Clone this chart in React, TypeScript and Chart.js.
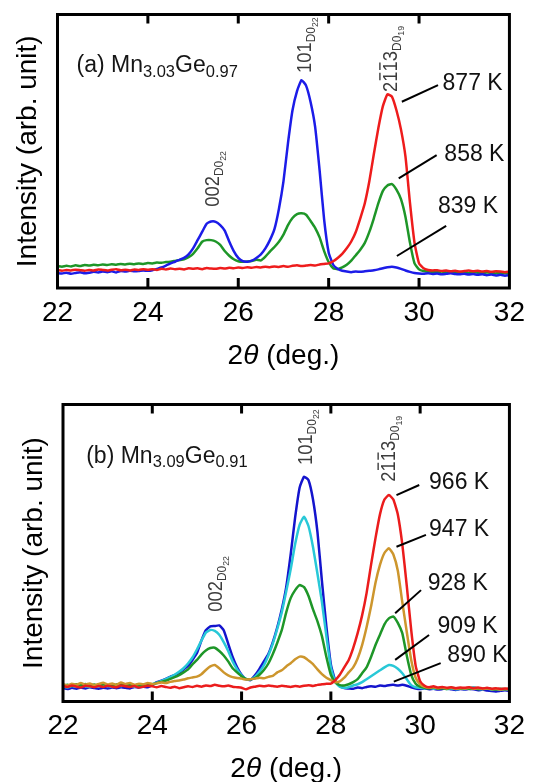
import React, { useEffect, useRef } from "react";
import { Chart, registerables } from "chart.js";
Chart.register(...registerables);

const FONT = '"Liberation Sans", Arial, Helvetica, sans-serif';

// 2θ grid (deg.)
const twoTheta = [
  22.0, 22.1, 22.2, 22.3, 22.4, 22.5, 22.6, 22.7, 22.8, 22.9,
  23.0, 23.1, 23.2, 23.3, 23.4, 23.5, 23.6, 23.7, 23.8, 23.9,
  24.0, 24.1, 24.2, 24.3, 24.4, 24.5, 24.6, 24.7, 24.8, 24.9,
  25.0, 25.1, 25.2, 25.3, 25.4, 25.5, 25.6, 25.7, 25.8, 25.9,
  26.0, 26.1, 26.2, 26.3, 26.4, 26.5, 26.6, 26.7, 26.8, 26.9,
  27.0, 27.1, 27.2, 27.3, 27.4, 27.5, 27.6, 27.7, 27.8, 27.9,
  28.0, 28.1, 28.2, 28.3, 28.4, 28.5, 28.6, 28.7, 28.8, 28.9,
  29.0, 29.1, 29.2, 29.3, 29.4, 29.5, 29.6, 29.7, 29.8, 29.9,
  30.0, 30.1, 30.2, 30.3, 30.4, 30.5, 30.6, 30.7, 30.8, 30.9,
  31.0, 31.1, 31.2, 31.3, 31.4, 31.5, 31.6, 31.7, 31.8, 31.9,
  32.0,
];
const xTickValues = [22, 24, 26, 28, 30, 32];

// Panel (a) Mn3.03Ge0.97
const a839K = [
  5.4, 5.3, 5.6, 5.2, 5.5, 5.8, 5.4, 5.6, 5.9, 5.7,
  6.0, 5.8, 6.1, 5.7, 6.2, 6.0, 6.3, 6.1, 6.2, 6.4,
  6.3, 6.5, 7.0, 7.5, 8.2, 9.0, 9.6, 10.3, 11.0, 12.3,
  14.5, 17.5, 20.5, 23.5, 24.3, 24.2, 23.0, 21.0, 17.0, 13.5,
  11.0, 9.8, 9.6, 10.0, 11.0, 12.3, 14.5, 17.5, 21.5, 29.0,
  39.0, 53.0, 65.0, 72.0, 76.0, 74.0, 68.0, 59.0, 43.0, 25.0,
  13.0, 8.5, 7.0, 6.3, 6.0, 5.8, 6.0, 5.9, 6.1, 6.3,
  6.5, 6.8, 7.2, 7.6, 7.8, 7.5, 7.0, 6.4, 5.9, 5.5,
  5.3, 5.2, 5.4, 5.1, 5.3, 5.0, 5.2, 5.4, 5.1, 5.0,
  5.2, 4.9, 5.1, 4.8, 5.0, 4.7, 4.9, 4.6, 4.8, 4.5,
  4.7,
];
const a858K = [
  8.0, 7.8, 8.1, 7.9, 8.3, 8.0, 8.4, 8.2, 8.5, 8.3,
  8.6, 8.4, 8.7, 8.5, 8.8, 8.6, 8.9, 8.7, 9.0, 8.8,
  9.1, 9.0, 9.3, 9.2, 9.5, 9.6, 9.9, 10.2, 10.5, 11.3,
  12.5, 14.5, 16.9, 17.5, 17.5, 17.0, 15.8, 13.5, 11.8, 10.5,
  9.8, 9.6, 9.7, 9.9, 10.3, 10.1, 11.5, 13.3, 15.0, 16.9,
  19.5, 23.0, 25.6, 27.0, 27.3, 26.8, 24.5, 22.0, 18.5, 13.5,
  9.5, 7.2, 6.9, 7.5, 8.5, 10.0, 12.0, 14.0, 16.5, 20.5,
  25.5, 31.0, 35.5, 37.5, 38.0, 36.0, 32.5, 26.0, 16.5, 9.0,
  6.8, 6.2, 6.0, 5.9, 5.8, 6.0, 5.7, 5.9, 5.6, 5.8,
  5.7, 5.5, 5.8, 5.6, 5.4, 5.7, 5.5, 5.3, 5.6, 5.4,
  5.3,
];
const a877K = [
  6.5, 6.3, 6.6, 6.4, 6.7, 6.5, 6.3, 6.6, 6.4, 6.8,
  6.6, 6.4, 6.7, 6.9, 6.5, 6.7, 6.4, 6.8, 6.6, 6.9,
  6.7, 6.9, 6.6, 7.0, 6.8, 7.1, 6.9, 7.0, 6.8, 7.2,
  7.0, 7.2, 6.9, 7.3, 7.1, 7.0, 7.3, 7.1, 7.4, 7.2,
  7.5, 7.3, 7.6, 7.4, 7.7, 7.5, 7.8, 7.6, 7.9, 7.7,
  8.0, 7.8, 8.1, 8.3, 8.0, 8.2, 8.4, 8.2, 8.6, 8.8,
  9.0, 9.8, 11.0, 12.5, 14.5, 17.0, 20.5, 25.5, 31.0, 39.0,
  49.0, 58.5, 66.5, 70.8, 70.0, 65.0, 58.0, 48.0, 31.0, 16.5,
  9.0, 7.2, 6.6, 6.4, 6.5, 6.2, 6.4, 6.1, 6.3, 6.0,
  6.2, 6.4, 6.1, 6.3, 6.0, 6.2, 5.9, 6.1, 6.0, 5.8,
  6.0,
];

// Panel (b) Mn3.09Ge0.91
const b890K = [
  4.5, 4.2, 4.6, 4.3, 4.7, 4.4, 4.8, 4.5, 4.3, 4.6,
  4.4, 4.7, 4.5, 4.8, 4.6, 4.4, 4.9, 4.7, 5.0, 4.8,
  5.5, 6.5, 7.0, 7.6, 8.3, 8.9, 9.6, 10.8, 12.0, 14.0,
  16.3, 20.5, 24.0, 25.3, 25.4, 25.6, 24.0, 19.5, 15.0, 11.5,
  9.0, 7.5, 7.2, 8.8, 11.0, 13.5, 16.0, 20.0, 25.0, 31.0,
  38.5, 49.5, 62.0, 72.0, 75.7, 74.5, 68.0, 57.0, 40.5, 25.2,
  12.5, 7.0, 5.2, 4.5, 4.4, 4.3, 4.7, 4.5, 4.9, 5.1,
  5.0, 5.4, 5.2, 5.5, 5.6, 5.4, 5.6, 5.3, 4.8, 4.4,
  4.2, 4.4, 4.1, 4.3, 4.0, 4.2, 4.4, 4.1, 3.9, 4.2,
  4.0, 4.3, 4.1, 3.8, 4.0, 3.7, 3.5, 3.4, 3.6, 3.8,
  3.6,
];
const b909K = [
  5.0, 4.7, 5.2, 4.9, 5.4, 5.1, 4.8, 5.3, 5.0, 5.5,
  5.2, 4.9, 5.4, 5.1, 5.6, 5.3, 5.0, 5.4, 5.2, 5.6,
  5.8, 6.3, 6.9, 7.5, 8.2, 9.0, 10.0, 11.2, 12.8, 14.8,
  17.5, 20.5, 23.2, 24.1, 23.8, 22.5, 20.0, 17.0, 13.5, 10.8,
  8.8, 7.5, 7.4, 8.3, 10.0, 12.2, 15.5, 19.5, 24.5, 30.0,
  37.0, 44.5, 53.0, 59.5, 62.2, 59.0, 52.0, 43.0, 33.5, 22.0,
  11.5, 6.5, 5.0, 4.6, 4.8, 5.4, 5.8, 6.5, 7.5, 8.5,
  9.5, 10.5, 11.5, 12.3, 12.0, 11.0, 9.5, 7.5, 5.5, 4.8,
  4.6, 4.4, 4.7, 4.3, 4.5, 4.6, 4.2, 4.4, 4.1, 4.3,
  4.2, 4.5, 4.8, 4.3, 4.1, 4.4, 4.0, 4.2, 3.9, 4.1,
  4.0,
];
const b928K = [
  5.3, 5.6, 5.2, 5.8, 5.5, 5.9, 5.4, 5.7, 5.3, 5.8,
  5.5, 5.2, 5.7, 5.9, 5.4, 5.6, 5.3, 5.5, 5.2, 5.6,
  5.8, 6.2, 6.6, 7.0, 7.6, 8.2, 8.9, 9.8, 10.8, 12.5,
  14.0, 15.8, 17.2, 18.0, 18.1, 17.0, 15.5, 13.5, 11.2, 9.8,
  8.5, 7.6, 7.5, 7.9, 9.0, 10.6, 12.8, 16.0, 19.8, 24.0,
  30.0, 34.8, 37.5, 39.2, 38.5, 35.5, 31.0, 27.0, 22.0, 15.0,
  9.0, 6.5, 5.5, 5.4, 5.8, 6.5, 7.5, 9.5, 11.5, 15.0,
  19.0, 22.5, 26.0, 28.0, 28.6, 26.5, 23.0, 15.5, 9.0, 6.0,
  5.0, 4.6, 4.4, 4.7, 4.3, 4.5, 4.2, 4.6, 4.4, 4.3,
  4.5, 4.2, 4.4, 4.1, 4.3, 4.5, 4.2, 4.0, 4.3, 4.1,
  4.2,
];
const b947K = [
  5.8, 5.4, 6.0, 5.6, 6.2, 5.7, 6.1, 5.5, 5.9, 6.3,
  5.7, 6.1, 5.6, 6.4, 5.9, 6.2, 5.6, 6.0, 5.8, 6.2,
  5.9, 6.1, 6.4, 6.2, 6.6, 6.9, 7.1, 7.4, 7.8, 8.1,
  8.4, 9.2, 10.6, 11.8, 12.3, 11.2, 9.8, 8.8, 8.2, 7.9,
  7.7, 7.4, 7.5, 7.7, 8.0, 7.8, 8.3, 8.6, 9.8, 10.5,
  11.8, 12.9, 14.2, 15.1, 14.9, 13.8, 12.6, 10.8, 9.2, 8.0,
  7.2, 6.5, 6.8, 8.0, 9.8, 11.5, 14.5, 19.0, 25.0, 32.0,
  40.0, 46.0, 50.0, 51.6, 49.5, 44.0, 33.5, 23.5, 14.0, 8.0,
  5.8, 4.9, 4.6, 4.8, 4.5, 4.7, 4.4, 4.6, 4.3, 4.5,
  4.4, 4.6, 4.3, 4.5, 4.2, 4.4, 4.1, 4.3, 4.0, 4.2,
  4.1,
];
const b966K = [
  5.2, 4.9, 5.4, 5.0, 4.7, 5.3, 5.1, 4.8, 5.2, 4.9,
  5.3, 5.0, 4.8, 5.4, 5.1, 4.9, 5.2, 4.7, 5.0, 5.3,
  5.1, 4.8, 5.2, 4.9, 4.6, 5.0, 4.5, 4.8, 5.1, 4.9,
  5.3, 5.0, 5.4, 5.2, 5.6, 5.3, 5.1, 5.4, 5.0, 4.8,
  4.6, 4.1, 4.7, 5.0, 5.3, 5.1, 5.4, 5.2, 5.0, 5.3,
  5.1, 4.9, 5.2, 5.0, 5.3, 5.5, 5.2, 5.6, 5.8, 6.0,
  6.0, 7.2, 9.0, 11.5, 14.0, 18.0, 23.0, 29.0, 36.5, 46.0,
  55.0, 63.0, 68.0, 69.5, 68.0, 63.0, 53.0, 39.0, 24.0, 12.0,
  6.8, 5.3, 4.8, 5.1, 4.7, 4.9, 4.6, 4.8, 4.5, 4.7,
  4.6, 4.8, 4.5, 4.7, 4.4, 4.6, 4.3, 4.5, 4.2, 4.4,
  4.3,
];

type Series = { label: string; values: number[]; color: string };
type TempLabel = { text: string; tx: number; ty: number; x1: number; y1: number; x2: number; y2: number };
type PeakLabel = { main: string; sub: string; subsub: string; bars: number[]; x: number; y: number };
type Panel = {
  series: Series[];
  sample: { x: number; y: number; parts: [string, string, string, string] };
  temps: TempLabel[];
  peaks: PeakLabel[];
  frameLeft: number;
  frameRight: number;
  frameTop: number;
  frameBottom: number;
};

const panelA: Panel = {
  series: [
    { label: "877 K", values: a877K, color: "rgb(238,28,28)" },
    { label: "839 K", values: a839K, color: "rgb(28,28,232)" },
    { label: "858 K", values: a858K, color: "rgb(30,150,40)" },
  ],
  sample: { x: 22.42, y: 78.8, parts: ["(a) Mn", "3.03", "Ge", "0.97"] },
  temps: [
    { text: "877 K", tx: 30.52, ty: 74.8, x1: 29.62, y1: 68.1, x2: 30.42, y2: 74.2 },
    { text: "858 K", tx: 30.56, ty: 48.6, x1: 29.55, y1: 40.1, x2: 30.39, y2: 48.6 },
    { text: "839 K", tx: 30.42, ty: 29.7, x1: 29.51, y1: 11.7, x2: 30.6, y2: 22.7 },
  ],
  peaks: [
    { main: "002", sub: "D0", subsub: "22", bars: [], x: 25.57, y: 29.7 },
    { main: "101", sub: "D0", subsub: "22", bars: [], x: 27.62, y: 78.6 },
    { main: "2113", sub: "D0", subsub: "19", bars: [1, 2], x: 29.51, y: 71.7 },
  ],
  frameLeft: 57.5,
  frameRight: 518,
  frameTop: 14.5,
  frameBottom: 288,
};

const panelB: Panel = {
  series: [
    { label: "966 K", values: b966K, color: "rgb(235,28,28)" },
    { label: "947 K", values: b947K, color: "rgb(205,150,45)" },
    { label: "928 K", values: b928K, color: "rgb(30,150,40)" },
    { label: "909 K", values: b909K, color: "rgb(40,200,215)" },
    { label: "890 K", values: b890K, color: "rgb(20,20,205)" },
  ],
  sample: { x: 22.52, y: 80.4, parts: ["(b) Mn", "3.09", "Ge", "0.91"] },
  temps: [
    { text: "966 K", tx: 30.2, ty: 73.7, x1: 29.47, y1: 69.5, x2: 29.98, y2: 72.9 },
    { text: "947 K", tx: 30.2, ty: 57.7, x1: 29.47, y1: 52.1, x2: 30.13, y2: 56.1 },
    { text: "928 K", tx: 30.17, ty: 39.8, x1: 29.44, y1: 29.7, x2: 30.02, y2: 37.5 },
    { text: "909 K", tx: 30.39, ty: 25.2, x1: 29.44, y1: 14.0, x2: 30.2, y2: 22.4 },
    { text: "890 K", tx: 30.61, ty: 15.3, x1: 29.41, y1: 6.7, x2: 30.46, y2: 12.9 },
  ],
  peaks: [
    { main: "002", sub: "D0", subsub: "22", bars: [], x: 25.56, y: 30.2 },
    { main: "101", sub: "D0", subsub: "22", bars: [], x: 27.58, y: 79.6 },
    { main: "2113", sub: "D0", subsub: "19", bars: [1, 2], x: 29.44, y: 74.0 },
  ],
  frameLeft: 63,
  frameRight: 518.5,
  frameTop: 13.5,
  frameBottom: 310.5,
};

const W = 536;
const H = 391;
const AXIS_FONT_SIZE = 28;

function drawPeak(ctx: CanvasRenderingContext2D, px: number, py: number, p: PeakLabel) {
  ctx.save();
  ctx.translate(px, py);
  ctx.rotate(-Math.PI / 2);
  ctx.scale(0.92, 1);
  ctx.fillStyle = "#3c3c3c";
  ctx.strokeStyle = "#3c3c3c";
  ctx.textAlign = "left";
  ctx.textBaseline = "alphabetic";
  let cx = 0;
  ctx.font = `20px ${FONT}`;
  for (let i = 0; i < p.main.length; i++) {
    const ch = p.main[i];
    const w = ctx.measureText(ch).width;
    ctx.fillText(ch, cx, 0);
    if (p.bars.includes(i)) {
      ctx.lineWidth = 1.4;
      ctx.beginPath();
      ctx.moveTo(cx + 1.5, -17);
      ctx.lineTo(cx + w - 1.5, -17);
      ctx.stroke();
    }
    cx += w;
  }
  ctx.font = `13px ${FONT}`;
  ctx.fillText(p.sub, cx, 4);
  cx += ctx.measureText(p.sub).width;
  ctx.font = `9.5px ${FONT}`;
  ctx.fillText(p.subsub, cx, 7);
  ctx.restore();
}

function makePlugin(panel: Panel) {
  return {
    id: "decor",
    afterDatasetsDraw(chart: any) {
      const { ctx, chartArea: ca } = chart;
      const xs = chart.scales.x;
      const ys = chart.scales.y;
      ctx.save();
      // frame
      ctx.strokeStyle = "#000";
      ctx.lineWidth = 3;
      ctx.strokeRect(ca.left, ca.top, ca.right - ca.left, ca.bottom - ca.top);
      // inward ticks on top and bottom
      const inner = xs.ticks.map((t: any) => t.value).filter((v: number) => v > xs.min && v < xs.max);
      ctx.lineWidth = 3;
      for (const v of inner) {
        const px = xs.getPixelForValue(v);
        ctx.beginPath();
        ctx.moveTo(px, ca.bottom);
        ctx.lineTo(px, ca.bottom - 10);
        ctx.moveTo(px, ca.top);
        ctx.lineTo(px, ca.top + 9);
        ctx.stroke();
      }
      // x axis title: 2θ (deg.)
      ctx.fillStyle = "#000";
      ctx.textBaseline = "middle";
      ctx.textAlign = "left";
      const tfont = `${AXIS_FONT_SIZE}px ${FONT}`;
      const ifont = `italic ${AXIS_FONT_SIZE}px ${FONT}`;
      ctx.font = tfont;
      const w1 = ctx.measureText("2").width;
      const w3 = ctx.measureText(" (deg.)").width;
      ctx.font = ifont;
      const w2 = ctx.measureText("θ").width;
      const total = w1 + w2 + w3;
      let tx = (ca.left + ca.right) / 2 - total / 2;
      const ty = ca.bottom + 68;
      ctx.font = tfont;
      ctx.fillText("2", tx, ty);
      tx += w1;
      ctx.font = ifont;
      ctx.fillText("θ", tx, ty);
      tx += w2;
      ctx.font = tfont;
      ctx.fillText(" (deg.)", tx, ty);

      // sample title
      const [p1, s1, p2, s2] = panel.sample.parts;
      let sx = xs.getPixelForValue(panel.sample.x);
      const sy = ys.getPixelForValue(panel.sample.y);
      ctx.fillStyle = "#151515";
      ctx.textBaseline = "alphabetic";
      const mfont = `23px ${FONT}`;
      const sfont = `16.5px ${FONT}`;
      ctx.font = mfont;
      ctx.fillText(p1, sx, sy);
      sx += ctx.measureText(p1).width;
      ctx.font = sfont;
      ctx.fillText(s1, sx, sy + 4.5);
      sx += ctx.measureText(s1).width;
      ctx.font = mfont;
      ctx.fillText(p2, sx, sy);
      sx += ctx.measureText(p2).width;
      ctx.font = sfont;
      ctx.fillText(s2, sx, sy + 4.5);

      // temperature labels with leader lines
      ctx.strokeStyle = "#000";
      ctx.lineWidth = 2;
      ctx.fillStyle = "#111";
      ctx.font = `23px ${FONT}`;
      ctx.textBaseline = "middle";
      for (const t of panel.temps) {
        ctx.beginPath();
        ctx.moveTo(xs.getPixelForValue(t.x1), ys.getPixelForValue(t.y1));
        ctx.lineTo(xs.getPixelForValue(t.x2), ys.getPixelForValue(t.y2));
        ctx.stroke();
        ctx.fillText(t.text, xs.getPixelForValue(t.tx), ys.getPixelForValue(t.ty));
      }
      // peak labels
      for (const p of panel.peaks) {
        drawPeak(ctx, xs.getPixelForValue(p.x), ys.getPixelForValue(p.y), p);
      }
      ctx.restore();
    },
  };
}

function makeConfig(panel: Panel): any {
  const tickFont = { family: FONT, size: AXIS_FONT_SIZE, lineHeight: 1 };
  return {
    type: "line",
    data: {
      datasets: panel.series.map((s) => ({
        label: s.label,
        data: twoTheta.map((x, i) => ({ x, y: s.values[i] })),
        borderColor: s.color,
        backgroundColor: s.color,
        borderWidth: 2.5,
        pointRadius: 0,
        tension: 0.15,
        fill: false,
      })),
    },
    options: {
      responsive: false,
      maintainAspectRatio: false,
      devicePixelRatio: 1,
      animation: false,
      events: [],
      layout: {
        padding: { left: 0, top: panel.frameTop, right: W - panel.frameRight, bottom: 0 },
      },
      plugins: {
        legend: { display: false },
        tooltip: { enabled: false },
        title: { display: false },
      },
      scales: {
        x: {
          type: "linear",
          min: 22,
          max: 32,
          afterBuildTicks: (scale: any) => {
            scale.ticks = xTickValues.map((v) => ({ value: v }));
          },
          ticks: {
            stepSize: 2,
            font: tickFont,
            color: "#000",
            padding: 11,
            maxRotation: 0,
            autoSkip: false,
          },
          grid: { display: false, drawTicks: false },
          border: { display: false },
          afterFit: (scale: any) => {
            scale.height = H - panel.frameBottom;
          },
        },
        y: {
          type: "linear",
          min: 0,
          max: 100,
          ticks: { display: false },
          grid: { display: false, drawTicks: false },
          border: { display: false },
          title: {
            display: true,
            text: "Intensity (arb. unit)",
            color: "#000",
            font: { family: FONT, size: AXIS_FONT_SIZE, lineHeight: 1 },
            padding: { top: panel.frameLeft - 29 - AXIS_FONT_SIZE / 2, bottom: 0 },
          },
          afterFit: (scale: any) => {
            scale.width = panel.frameLeft;
          },
        },
      },
    },
    plugins: [makePlugin(panel)],
  };
}

export default function App() {
  const refA = useRef<HTMLCanvasElement | null>(null);
  const refB = useRef<HTMLCanvasElement | null>(null);

  useEffect(() => {
    const charts: Chart[] = [];
    if (refA.current) charts.push(new Chart(refA.current, makeConfig(panelA)));
    if (refB.current) charts.push(new Chart(refB.current, makeConfig(panelB)));
    return () => {
      charts.forEach((c) => c.destroy());
    };
  }, []);

  return (
    <div style={{ position: "absolute", left: 0, top: 0, width: W, height: 2 * H, background: "#fff" }}>
      <canvas ref={refA} width={W} height={H} style={{ position: "absolute", left: 0, top: 0, width: W, height: H }} />
      <canvas ref={refB} width={W} height={H} style={{ position: "absolute", left: 0, top: H, width: W, height: H }} />
    </div>
  );
}
